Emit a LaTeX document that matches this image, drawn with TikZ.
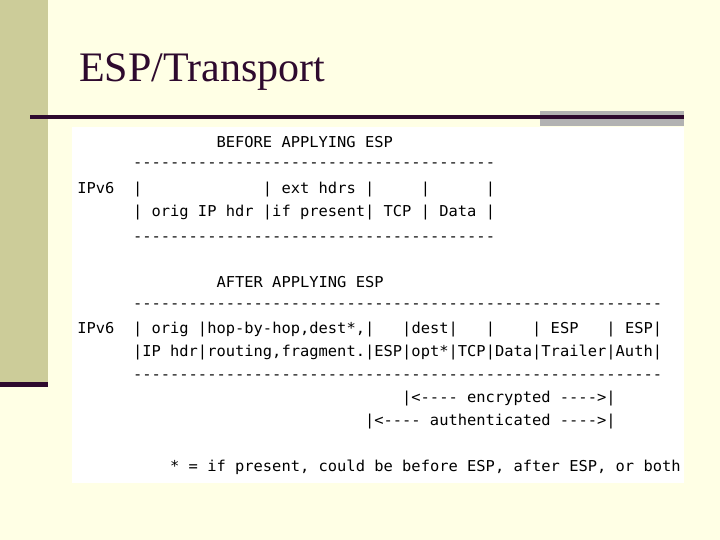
\documentclass[tikz,border=0pt]{standalone}
\usepackage{fontspec}
\setmainfont{Liberation Serif}
\setmonofont{DejaVu Sans Mono}[FakeStretch=1.028]
\definecolor{bgyellow}{HTML}{FFFFE5}
\definecolor{olivebar}{HTML}{CCCC99}
\definecolor{darkplum}{HTML}{2E0A2E}
\definecolor{graybar}{HTML}{B2B2B2}
\tikzset{
  rfc/.style={anchor=base west, inner sep=0pt, outer sep=0pt, text=black,
    font=\ttfamily\fontsize{15}{15}\selectfont},
}
\begin{document}
\begin{tikzpicture}[x=1pt,y=-1pt]
\useasboundingbox (0,0) rectangle (720,540);
\fill[bgyellow] (0,0) rectangle (720,540);
\fill[olivebar] (0,0) rectangle (48,382);
\fill[darkplum] (0,382) rectangle (48,387);
\fill[graybar] (540,111) rectangle (684,126);
\fill[darkplum] (30,115.5) rectangle (684,119.5);
\fill[white] (72,127) rectangle (684,483);
\node[anchor=base west, inner sep=0pt, text=darkplum,
  font=\fontsize{42}{42}\selectfont] (title) at (79,82) {ESP/Transport};
\def\cx#1{133+#1*9.28}
\node[rfc] (before) at ({\cx{9}},148) {BEFORE APPLYING ESP};
\node[rfc] (d1) at ({\cx{0}},168) {---------------------------------------};
\node[rfc] (b1) at ({\cx{-6}},194) {IPv6~~|~~~~~~~~~~~~~|~ext~hdrs~|~~~~~|~~~~~~|};
\node[rfc] (b2) at ({\cx{0}},217) {|~orig~IP~hdr~|if~present|~TCP~|~Data~|};
\node[rfc] (d2) at ({\cx{0}},241) {---------------------------------------};
\node[rfc] (after) at ({\cx{9}},287) {AFTER APPLYING ESP};
\node[rfc] (d3) at ({\cx{0}},308) {---------------------------------------------------------};
\node[rfc] (a1) at ({\cx{-6}},333) {IPv6~~|~orig~|hop-by-hop,dest*,|~~~|dest|~~~|~~~~|~ESP~~~|~ESP|};
\node[rfc] (a2) at ({\cx{0}},356) {|IP~hdr|routing,fragment.|ESP|opt*|TCP|Data|Trailer|Auth|};
\node[rfc] (d4) at ({\cx{0}},379) {---------------------------------------------------------};
\node[rfc] (enc) at ({\cx{29}},402) {|<----~encrypted~---->|};
\node[rfc] (auth) at ({\cx{25}},425) {|<----~authenticated~---->|};
\node[rfc] (foot) at ({\cx{4}},471) {*~=~if~present,~could~be~before~ESP,~after~ESP,~or~both};
\end{tikzpicture}
\end{document}
